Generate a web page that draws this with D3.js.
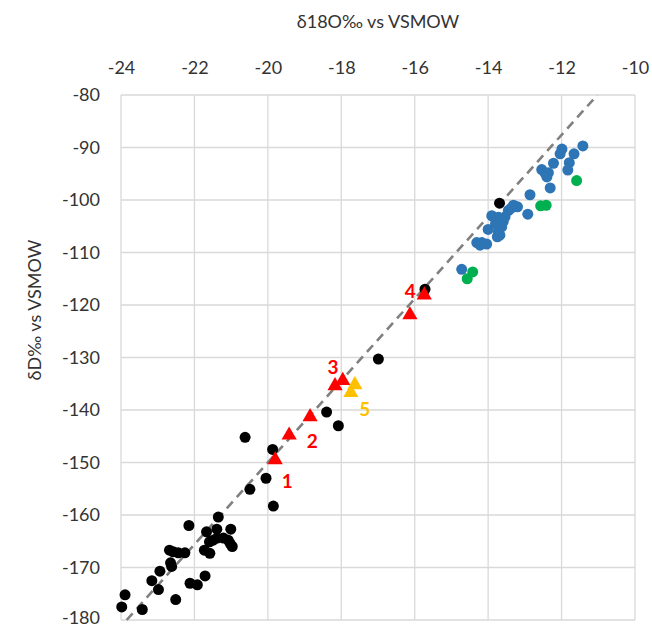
<!DOCTYPE html>
<html>
<head>
<meta charset="utf-8">
<script src="https://cdn.jsdelivr.net/npm/d3@7/dist/d3.min.js"></script>
<style>
  html, body { margin: 0; padding: 0; background: #ffffff; }
  svg { display: block; }
  text { font-family: Lato, "Open Sans", "Liberation Sans", sans-serif; }
</style>
</head>
<body>
<svg id="chart" width="652" height="627"></svg>
<script>
// δ18O (x) and δD (y) pairs, per sample group
const xTicks = [-24, -22, -20, -18, -16, -14, -12, -10];
const yTicks = [-80, -90, -100, -110, -120, -130, -140, -150, -160, -170, -180];

const blackPoints = [
  [-23.89, -175.2], [-23.98, -177.5], [-23.42, -178.0], [-23.16, -172.5],
  [-22.94, -170.7], [-22.98, -174.2], [-22.51, -176.1], [-22.68, -166.7],
  [-22.58, -167.0], [-22.44, -167.2], [-22.26, -167.2], [-22.65, -169.1],
  [-22.62, -169.8], [-22.15, -162.0], [-22.12, -173.0], [-21.92, -173.3],
  [-21.71, -171.6], [-21.67, -163.2], [-21.35, -160.4], [-21.39, -162.7],
  [-21.73, -166.7], [-21.58, -167.3], [-21.59, -165.1], [-21.49, -164.8],
  [-21.38, -164.4], [-21.21, -164.4], [-21.08, -164.8], [-21.01, -162.7],
  [-20.97, -166.0], [-21.03, -165.4], [-20.49, -155.1], [-20.05, -153.0],
  [-19.85, -158.3], [-19.87, -147.5], [-20.62, -145.2], [-18.40, -140.4],
  [-18.08, -143.0], [-16.99, -130.3], [-15.72, -117.0], [-13.69, -100.6]
];

const bluePoints = [
  [-11.42, -89.7], [-11.99, -90.3], [-12.04, -91.2], [-11.66, -91.2],
  [-12.22, -93.0], [-11.79, -92.9], [-11.83, -94.3], [-12.54, -94.2],
  [-12.45, -94.9], [-12.36, -94.8], [-12.40, -95.6], [-12.31, -97.7],
  [-12.86, -99.0], [-12.92, -102.7], [-13.31, -101.0], [-13.20, -101.3],
  [-13.38, -101.6], [-13.45, -102.0], [-13.54, -103.2], [-13.72, -103.3],
  [-13.90, -103.0], [-13.59, -104.1], [-13.80, -104.5], [-13.63, -105.1],
  [-14.00, -105.6], [-13.72, -106.0], [-13.68, -106.7], [-13.75, -107.0],
  [-14.31, -108.1], [-14.17, -108.1], [-14.04, -108.4], [-14.22, -108.6],
  [-14.72, -113.2]
];

const greenPoints = [
  [-11.59, -96.3], [-12.57, -101.1], [-12.42, -101.0], [-14.42, -113.7], [-14.57, -115.0]
];

const redTriangles = [
  [-19.80, -149.5], [-19.42, -144.8], [-18.85, -141.3], [-18.17, -135.4],
  [-17.96, -134.4], [-16.13, -121.9], [-15.74, -118.1]
];

const yellowTriangles = [
  [-17.63, -135.2], [-17.74, -136.7]
];

// Numbered sample labels and the sample each one belongs to
const sampleLabels = ["1", "2", "3", "4", "5"];
const sampleAnchors = [
  [-19.80, -149.5], [-19.42, -144.8], [-18.17, -135.4], [-15.74, -118.1], [-17.74, -136.7]
];

// Meteoric water line: δD = slope·δ18O + intercept
const mwlSlope = 7.8;
const mwlIntercept = 6;

const svg = d3.select("#chart");
const margin = { left: 121, right: 17, top: 95, bottom: 7 };
const W = 652, H = 627;

const x = d3.scaleLinear().domain([-24, -10]).range([margin.left, W - margin.right]);
const y = d3.scaleLinear().domain([-180, -80]).range([H - margin.bottom, margin.top]);

const gridColor = "#d9d9d9";
const textColor = "#333333";
const plainNumber = d => String(d);

// gridlines
svg.append("g").selectAll("line").data(xTicks).join("line")
  .attr("x1", d => x(d)).attr("x2", d => x(d))
  .attr("y1", y(-80)).attr("y2", y(-180))
  .attr("stroke", gridColor).attr("stroke-width", 1.3);
svg.append("g").selectAll("line").data(yTicks).join("line")
  .attr("x1", x(-24)).attr("x2", x(-10))
  .attr("y1", d => y(d)).attr("y2", d => y(d))
  .attr("stroke", gridColor).attr("stroke-width", 1.3);

// axes (labels only)
const xAxis = svg.append("g")
  .attr("transform", `translate(0,${y(-80) - 21})`)
  .call(d3.axisTop(x).tickValues(xTicks).tickSize(0).tickPadding(0).tickFormat(plainNumber));
xAxis.select(".domain").remove();
xAxis.selectAll("text").attr("font-size", 18).attr("fill", textColor)
  .style("font-family", "Lato, 'Open Sans', sans-serif");

const yAxis = svg.append("g")
  .attr("transform", `translate(${x(-24) - 21},0)`)
  .call(d3.axisLeft(y).tickValues(yTicks).tickSize(0).tickPadding(0).tickFormat(plainNumber));
yAxis.select(".domain").remove();
yAxis.selectAll("text").attr("font-size", 18).attr("fill", textColor)
  .style("font-family", "Lato, 'Open Sans', sans-serif");
// keep the lowest label inside the canvas
yAxis.selectAll("text").filter(d => d === -180).attr("dy", "0.2em");

// axis titles
svg.append("text")
  .attr("x", (x(-24) + x(-10)) / 2).attr("y", 28)
  .attr("text-anchor", "middle").attr("font-size", 18).attr("fill", textColor)
  .text("δ18O‰ vs VSMOW");

svg.append("text")
  .attr("transform", `translate(41,310) rotate(-90)`)
  .attr("text-anchor", "middle").attr("font-size", 18).attr("fill", textColor)
  .text("δD‰ vs VSMOW");

// water line
const lineX0 = (-180 - mwlIntercept) / mwlSlope;
const lineX1 = (-80 - mwlIntercept) / mwlSlope;
svg.append("line")
  .attr("x1", x(lineX0)).attr("y1", y(mwlSlope * lineX0 + mwlIntercept))
  .attr("x2", x(lineX1)).attr("y2", y(mwlSlope * lineX1 + mwlIntercept))
  .attr("stroke", "#808080").attr("stroke-width", 2.6)
  .attr("stroke-dasharray", "9,6");

const marks = svg.append("g");

function dots(data, color) {
  marks.append("g").selectAll("circle").data(data).join("circle")
    .attr("cx", d => x(d[0])).attr("cy", d => y(d[1]))
    .attr("r", 5.5).attr("fill", color);
}
dots(bluePoints, "#2e75b6");
dots(greenPoints, "#00b050");
dots(blackPoints, "#000000");

const tri = d3.symbol().type(d3.symbolTriangle).size(100);
function triangles(data, color) {
  marks.append("g").selectAll("path").data(data).join("path")
    .attr("d", tri)
    .attr("transform", d => `translate(${x(d[0])},${y(d[1])})`)
    .attr("fill", color);
}
triangles(redTriangles, "#ff0000");
triangles(yellowTriangles, "#ffc000");

// sample number labels, offset in pixels from their sample
const labelOffsets = [[12, 28], [23, 13], [-2, -12], [-14, 3], [14, 23]];
const labelColors = ["#ff0000", "#ff0000", "#ff0000", "#ff0000", "#ffc000"];
svg.append("g").selectAll("text").data(sampleLabels).join("text")
  .attr("x", (d, i) => x(sampleAnchors[i][0]) + labelOffsets[i][0])
  .attr("y", (d, i) => y(sampleAnchors[i][1]) + labelOffsets[i][1])
  .attr("text-anchor", "middle")
  .attr("font-size", 19).attr("font-weight", "bold")
  .attr("fill", (d, i) => labelColors[i])
  .text(d => d);
</script>
</body>
</html>
